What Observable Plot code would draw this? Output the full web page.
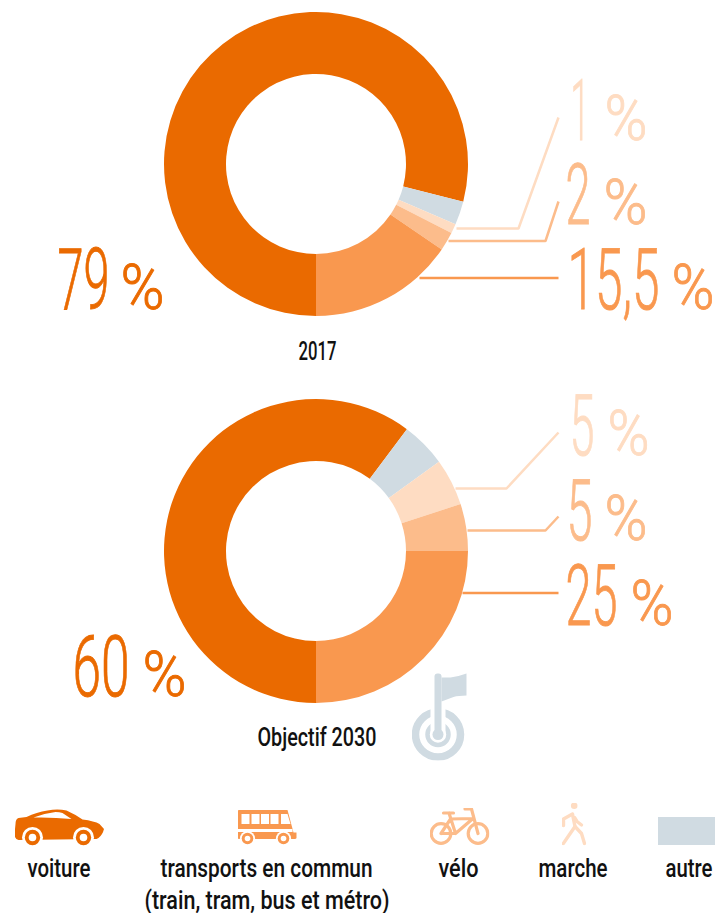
<!DOCTYPE html>
<html lang="fr">
<head>
<meta charset="utf-8">
<style>html,body{margin:0;padding:0;background:#fff}svg{display:block}</style>
<script src="https://cdn.jsdelivr.net/npm/d3@7"></script>
<script src="https://cdn.jsdelivr.net/npm/@observablehq/plot@0.6"></script>
</head>
<body>
<div id="chart"></div>
<script>
// ---- data ----
const categories = ["voiture", "autre", "marche", "vélo", "transports"];
const palette = ["#ea6a00", "#d0dbe2", "#fedcc2", "#fcbc8b", "#f9984f"];
const shares2017 = [79, 2.5, 1, 2, 15.5];
const shares2030 = [60.2, 4.8, 5, 5, 25];

const labelTexts = ["1 %", "2 %", "15,5 %", "79 %", "5 %", "5 %", "25 %", "60 %"];
const labelCategories = ["marche", "vélo", "transports", "voiture", "marche", "vélo", "transports", "voiture"];

const captionTexts = ["2017", "Objectif 2030", "voiture", "transports en commun", "(train, tram, bus et métro)", "vélo", "marche", "autre"];

// ---- layout (page pixels) ----
const W = 715, H = 913;
const donutCentres = [[316, 164], [316, 551]];
const outerR = 152, innerR = 90;
const labelX = [570, 565, 567, 57, 569, 566, 565, 72];
const labelBase = [139.5, 223.5, 308.5, 308.5, 454.5, 539.5, 624.5, 695.5];
const digitW = [19, 25, 92, 52, 25, 26, 52, 57];
const pctX = [604, 603, 671, 120, 607, 604, 630, 142];
const pctW = [43, 44, 43, 44, 42, 43, 43, 44];
const captionX = [298, 257, 27, 160, 144, 438, 538, 665];
const captionBase = [359.5, 745, 876, 876, 908, 876, 876, 876];
const captionW = [38, 119, 63, 212, 245, 40, 69, 47];

const leaders = [
  ["marche", [[456, 228], [518, 228], [558, 117]]],
  ["vélo", [[448, 240.5], [545, 240.5], [558, 201]]],
  ["transports", [[419, 277.5], [558, 277.5]]],
  ["marche", [[455, 488], [506, 488], [558, 432]]],
  ["vélo", [[467, 530], [545, 530], [558, 516]]],
  ["transports", [[462, 592.5], [558, 592.5]]]
].flatMap(([category, pts], id) => pts.map(([x, y]) => ({id, category, x, y})));

// ---- pictograms ----
const icon = (w, h, body) => "data:image/svg+xml," + encodeURIComponent(
  `<svg xmlns="http://www.w3.org/2000/svg" width="${w}" height="${h}" viewBox="0 0 ${w} ${h}">${body}</svg>`);
const colorOf = c => palette[categories.indexOf(c)];
const wheel = (x, y, c, a, b, d) => `<circle cx="${x}" cy="${y}" r="${a}" fill="#fff"/><circle cx="${x}" cy="${y}" r="${b}" fill="${c}"/><circle cx="${x}" cy="${y}" r="${d}" fill="#fff"/>`;

const carC = colorOf("voiture");
const carIcon = icon(90, 37, `<path fill="${carC}" d="M1 15 Q1 10 4 9 L12 8 Q22 3 33 1.5 Q43 -0.5 52 1.5 Q60 5 68 10.5 Q80 12 85 15 L89.5 20 Q88 26 84 29 L82 30 L4 31 Q0 30 0 25 Z"/><path fill="#fff" d="M19 8.5 Q30 4 41 3 Q45 3 48 4 L57 10 Q38 8 19 8.5Z"/>${wheel(18, 28.5, carC, 10.5, 7.7, 3.8)}${wheel(69, 28.5, carC, 10.5, 7.7, 3.8)}`);

const busC = colorOf("transports");
const busIcon = icon(60, 37, `<path fill="${busC}" d="M2 1 H50 L56 23.5 H59 V29 Q59 30 57 30 H2 Q0 30 0 28 V1.5 Q0 1 2 1Z"/>
<g fill="#fff"><rect x="4" y="5" width="8" height="10"/><rect x="14" y="5" width="8" height="10"/><rect x="23.5" y="5" width="8" height="10"/><rect x="33" y="5" width="8" height="10"/><path d="M43.5 5 H50 L53 15 H43.5Z"/><rect x="0" y="20" width="55" height="3"/></g>
${wheel(10, 29.5, busC, 7.6, 5.8, 2.8)}${wheel(46, 29.5, busC, 7.6, 5.8, 2.8)}`);

const bikeC = colorOf("vélo");
const bikeIcon = icon(60, 38, `<g fill="none" stroke="${bikeC}" stroke-width="3.2" stroke-linecap="round" stroke-linejoin="round"><circle cx="11.5" cy="26" r="9.8"/><circle cx="48.5" cy="26" r="9.8"/><path d="M14 5.5 H24 M19.5 5.5 L26 26 M11.5 26 H26 L43.5 11 L21 11.5 L11.5 26 M35.5 1.5 H42 L48.5 26"/></g>`);

const walkC = colorOf("marche");
const walkIcon = icon(25, 43, `<circle cx="12.7" cy="3.3" r="3.3" fill="${walkC}"/><g fill="none" stroke="${walkC}" stroke-width="3.4" stroke-linecap="round" stroke-linejoin="round"><path d="M11 12 L13.5 24 L8 32 L1.8 41"/><path d="M13.5 24 L20 31 L23 41"/><path d="M11 11.5 L2 16.5 V23"/><path d="M13 15 L15.5 19 L20 22.5"/></g>`);

const goalC = colorOf("autre");
const goalIcon = icon(56, 88, `<g fill="none" stroke="${goalC}"><circle cx="26.5" cy="62" r="22.5" stroke-width="7.5"/><circle cx="26.5" cy="62" r="10.5" stroke-width="4.5"/></g><rect x="19" y="29" width="15" height="33" fill="#fff"/><g fill="${goalC}"><rect x="23" y="1" width="7" height="61" rx="3"/><circle cx="26.5" cy="62" r="5.5"/><path d="M30 5 H39 Q47 4 55 1 V23 Q47 23 42 24.5 L30 29Z"/></g>`);

const pictos = [
  {src: carIcon, x: 59, y: 827, w: 90, h: 37},
  {src: busIcon, x: 267, y: 827, w: 60, h: 37},
  {src: bikeIcon, x: 459, y: 826, w: 60, h: 38},
  {src: walkIcon, x: 573.5, y: 823.5, w: 25, h: 43},
  {src: goalIcon, x: 439, y: 716, w: 56, h: 88}
];

// ---- donuts through the plot's scales ----
const pie = d3.pie().sort(null).startAngle(Math.PI).endAngle(3 * Math.PI).value(d => d.value);
const toSlices = (values, c) => pie(values.map((value, i) => ({value, category: categories[i]}))).map(s => ({...s, c}));
const slices = [...toSlices(shares2017, 0), ...toSlices(shares2030, 1)];
const arc = d3.arc().innerRadius(innerR).outerRadius(outerR);

function donuts(index, scales) {
  const g = d3.create("svg:g");
  g.selectAll("path").data(slices).join("path")
    .attr("transform", d => `translate(${scales.x(donutCentres[d.c][0])},${scales.y(donutCentres[d.c][1])})`)
    .attr("d", arc)
    .attr("fill", d => scales.color(d.data.category));
  return g.node();
}

const labels = labelTexts.map((text, i) => ({text, category: labelCategories[i], i}));
const captions = captionTexts.map((text, i) => ({text, i}));

function fitLabels(index, scales, values, dims, ctx, next) {
  const g = next(index, scales, values, dims, ctx);
  d3.select(g).selectAll("text").each(function (_, k) {
    const i = index[k], t = d3.select(this), text = labelTexts[i];
    const num = text.slice(0, -2);
    t.text(null).attr("font-size", 86).attr("stroke", t.attr("fill")).attr("stroke-width", 0.9);
    t.append("tspan").attr("x", 0).attr("textLength", digitW[i]).attr("lengthAdjust", "spacingAndGlyphs").text(num);
    t.append("tspan").text(" ").attr("font-size", 1);
    t.append("tspan").attr("x", pctX[i] - labelX[i]).attr("textLength", pctW[i]).attr("lengthAdjust", "spacingAndGlyphs").attr("font-size", 63).text("%");
  });
  return g;
}
function fitCaptions(index, scales, values, dims, ctx, next) {
  const g = next(index, scales, values, dims, ctx);
  d3.select(g).selectAll("text").each(function (_, k) {
    d3.select(this).attr("textLength", captionW[index[k]]).attr("lengthAdjust", "spacingAndGlyphs");
  });
  return g;
}

const chart = Plot.plot({
  width: W, height: H,
  margin: 0,
  style: {background: "#fff", overflow: "visible"},
  x: {domain: [0, W], range: [0, W], axis: null},
  y: {domain: [0, H], range: [0, H], axis: null},
  color: {type: "ordinal", domain: categories, range: palette},
  marks: [
    donuts,
    Plot.line(leaders, {x: "x", y: "y", z: "id", stroke: "category", strokeWidth: 2.5, curve: "linear", strokeLinejoin: "miter", strokeLinecap: "butt"}),
    Plot.text(labels, {
      x: d => labelX[d.i], y: d => labelBase[d.i], text: "text", fill: "category",
      textAnchor: "start", lineAnchor: "bottom", fontFamily: "Roboto", fontWeight: 300, render: fitLabels
    }),
    Plot.text(captions, {
      x: d => captionX[d.i], y: d => captionBase[d.i], text: "text", fill: "#111",
      textAnchor: "start", lineAnchor: "bottom", fontFamily: "Roboto", fontWeight: 500, fontSize: 26, render: fitCaptions
    }),
    Plot.image(pictos, {x: "x", y: "y", src: "src", width: "w", height: "h"}),
    Plot.rect(["autre"], {x1: () => 658, x2: () => 715, y1: () => 817, y2: () => 845, fill: d => d})
  ]
});
document.getElementById("chart").append(chart);
</script>
</body>
</html>
